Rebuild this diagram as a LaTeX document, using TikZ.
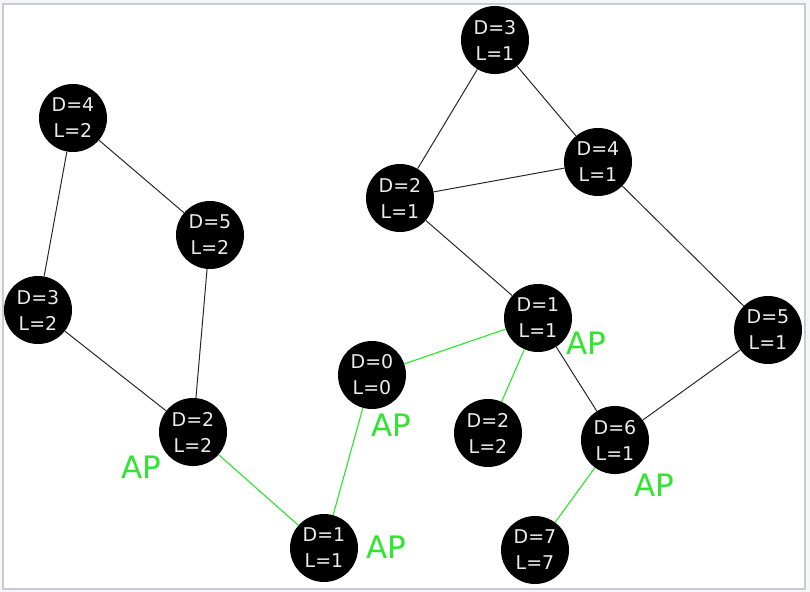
\documentclass[tikz,border=0pt]{standalone}
\usepackage{fontspec}
\setmainfont{DejaVu Sans}
\definecolor{apgreen}{RGB}{45,230,45}
\definecolor{framegray}{RGB}{200,204,210}
\definecolor{outergray}{RGB}{245,246,248}
\begin{document}
\begin{tikzpicture}[x=0.025cm, y=-0.025cm,
	vertex/.style={fill=black, circle, minimum size=1.7cm, inner sep=0pt, text=white!92!black, font=\fontsize{13.5}{18.5}\selectfont, align=center},
	ap/.style={text=apgreen, font=\fontsize{22}{24}\selectfont, inner sep=0pt},
	tree/.style={apgreen, line width=0.8pt},
	edge/.style={black!85, line width=0.7pt}]
		\useasboundingbox[fill=outergray] (0,0) rectangle (810,592);
		\draw[draw=framegray, fill=white, line width=1.2pt] (3,4) rectangle (805,589);
		
		\node[vertex] at (495,40) (D3L1) {D=3\\L=1};
		\node[vertex] at (598,162) (D4L1) {D=4\\L=1};
		\node[vertex] at (400,198) (D2L1) {D=2\\L=1};
		\node[vertex] at (538,318) (D1L1) {D=1\\L=1};
		\node[vertex] at (768,330) (D5L1) {D=5\\L=1};
		\node[vertex] at (372,375) (D0L0) {D=0\\L=0};
		\node[vertex] at (488,433) (D2L2b) {D=2\\L=2};
		\node[vertex] at (615,440) (D6L1) {D=6\\L=1};
		\node[vertex] at (535,550) (D7L7) {D=7\\L=7};
		\node[vertex] at (324,548) (D1L1b) {D=1\\L=1};
		\node[vertex] at (73,118) (D4L2) {D=4\\L=2};
		\node[vertex] at (210,235) (D5L2) {D=5\\L=2};
		\node[vertex] at (38,310) (D3L2) {D=3\\L=2};
		\node[vertex] at (193,432) (D2L2) {D=2\\L=2};
		
		\node[ap] at (586,343) (AP1) {AP};
		\node[ap] at (391,425) (AP2) {AP};
		\node[ap] at (141,467) (AP3) {AP};
		\node[ap] at (386,547) (AP4) {AP};
		\node[ap] at (654,485) (AP5) {AP};
		
		\draw[edge] (D3L1) -- (D2L1) -- (D4L1) -- (D3L1);
		\draw[edge] (D2L1) -- (D1L1) -- (D6L1) -- (D5L1) -- (D4L1);
		\draw[edge] (D5L2) -- (D4L2) -- (D3L2) -- (D2L2) -- (D5L2);
		\draw[tree] (D1L1) -- (D0L0) -- (D1L1b) -- (D2L2);
		\draw[tree] (D1L1) -- (D2L2b);
		\draw[tree] (D6L1) -- (D7L7);
\end{tikzpicture}
\end{document}
